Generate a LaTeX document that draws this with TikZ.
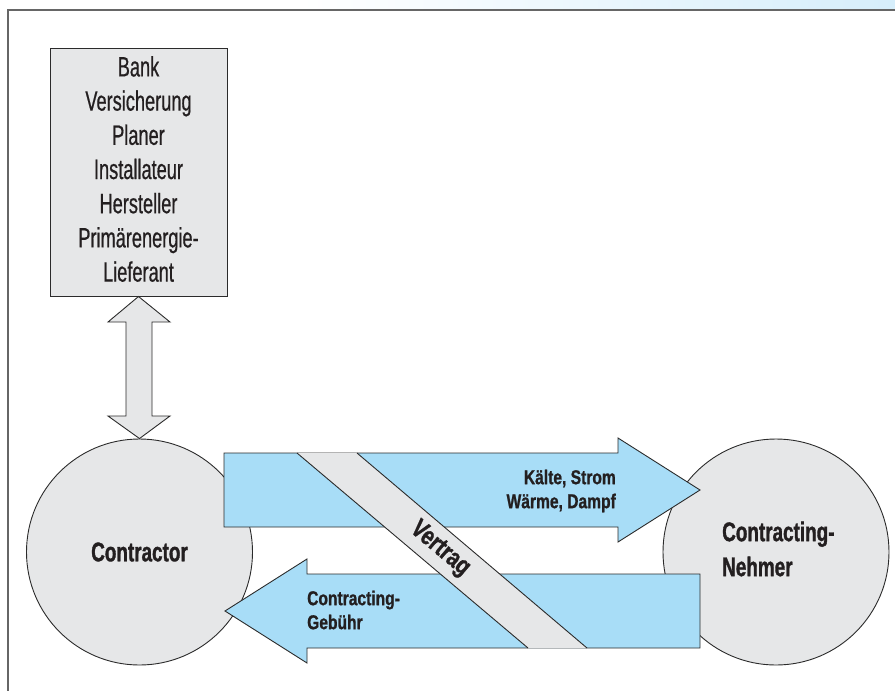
\documentclass[tikz,border=0pt]{standalone}
\usepackage{fontspec}
\setmainfont{Liberation Sans}
\newfontfamily\boxfont{Liberation Sans}[FakeStretch=0.65, FakeBold=0.6]
\newfontfamily\bigbold{Liberation Sans}[FakeStretch=0.7, BoldFeatures={FakeBold=1.2}]
\newfontfamily\smallbold{Liberation Sans}[FakeStretch=0.78, BoldFeatures={FakeBold=1.0}]
\definecolor{framegray}{HTML}{666666}
\definecolor{fillgray}{HTML}{E6E7E8}
\definecolor{flowblue}{HTML}{A8DDF7}
\definecolor{edgedark}{HTML}{2B2B2B}
\definecolor{inkblack}{HTML}{231F20}
\definecolor{topblue}{HTML}{D6EEFB}
\begin{document}
\begin{tikzpicture}[x=1pt,y=-1pt,
  partybox/.style={draw=edgedark, line width=1pt, fill=fillgray, minimum width=177pt, minimum height=248pt, inner sep=0pt},
  party/.style={circle, draw=edgedark, line width=0.9pt, fill=fillgray, minimum size=226pt, inner sep=0pt},
  flow/.style={draw=edgedark, line width=0.9pt, fill=flowblue},
  dblarrow/.style={draw=edgedark, line width=0.9pt, fill=fillgray},
  bigtxt/.style={text=inkblack, font=\bigbold\bfseries\fontsize{27}{35}\selectfont, align=left, inner sep=0pt},
  smalltxt/.style={text=inkblack, font=\smallbold\bfseries\fontsize{20}{24}\selectfont, inner sep=0pt},
  listtxt/.style={text=inkblack, font=\boxfont\fontsize{28}{34.2}\selectfont, align=center, inner sep=0pt}]
\useasboundingbox (0,0) rectangle (895,691);
% top gradient and frame
\shade[left color=white, right color=topblue] (300,0) rectangle (895,8.5);
\draw[framegray, line width=2pt] (8,691) -- (8,9.5) -- (895,9.5);
% box
\node[partybox] (box) at (138.5,172) {};
\node[listtxt] (list) at (138.5,169) {Bank\\Versicherung\\Planer\\Installateur\\Hersteller\\Primärenergie-\\Lieferant};
% circles
\node[party] (contractor) at (139.5,552) {};
\node[party] (nehmer) at (776,552) {};
\node[bigtxt] (contractortxt) at (contractor.center) {Contractor};
\node[bigtxt, anchor=west] (nehmertxt) at (722,549) {Contracting-\\Nehmer};
% double arrow
\draw[dblarrow] (box.south) -- (170,322) -- (152,322) -- (152,416) -- (170,416) -- (contractor.north)
  -- (108,416) -- (126,416) -- (126,322) -- (108,322) -- cycle;
% upper flow arrow
\draw[flow] (224,453) -- (618,453) -- (618,438) -- (700,490) -- (618,542) -- (618,527) -- (224,527) -- cycle;
% lower flow arrow
\draw[flow] (700,574) -- (307,574) -- (307,559) -- (225,611) -- (307,663) -- (307,648) -- (700,648) -- cycle;
% contract band
\coordinate (b1) at (297,453);
\coordinate (b2) at (357,453);
\coordinate (b3) at (587,648);
\coordinate (b4) at (528,648);
\fill[fillgray] (b1) -- (b2) -- (b3) -- (b4) -- cycle;
\draw[edgedark, line width=0.9pt] (b1) -- (b4);
\draw[edgedark, line width=0.9pt] (b2) -- (b3);
\node[smalltxt, font=\smallbold\bfseries\fontsize{26}{28}\selectfont, rotate=-40.2] (vertrag) at (440,549) {Vertrag};
% flow labels
\node[smalltxt, align=right, anchor=east] (goods) at (616,491) {Kälte, Strom\\Wärme, Dampf};
\node[smalltxt, align=left, anchor=west] (fee) at (307,610) {Contracting-\\Gebühr};
\end{tikzpicture}
\end{document}
